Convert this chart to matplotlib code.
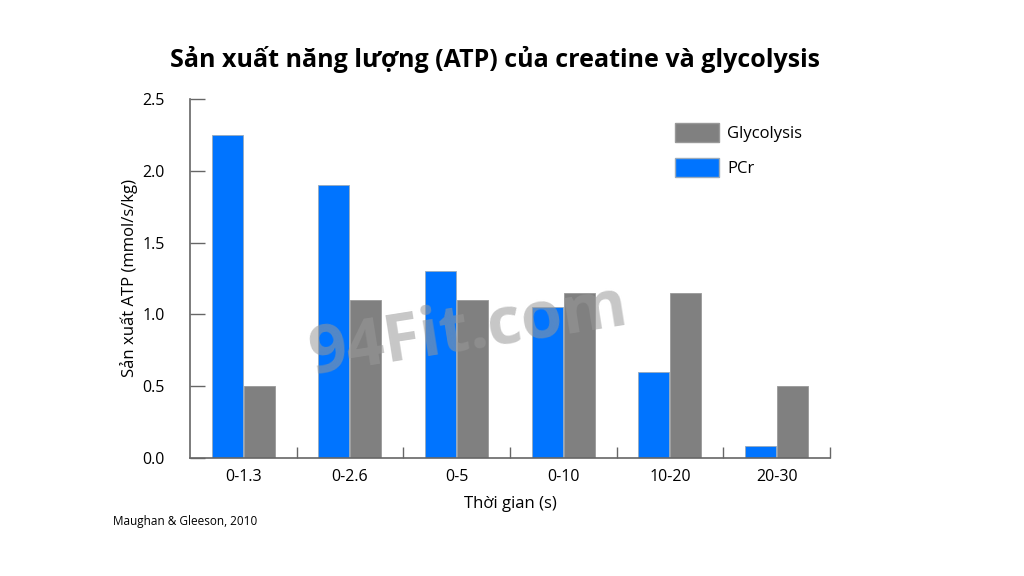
import numpy as np
import matplotlib
matplotlib.use("Agg")
import matplotlib.pyplot as plt
from matplotlib.patches import Patch

plt.rcParams['font.family'] = ['Open Sans', 'DejaVu Sans']

categories = ["0-1.3", "0-2.6", "0-5", "0-10", "10-20", "20-30"]
pcr = [2.25, 1.9, 1.3, 1.05, 0.6, 0.08]
glycolysis = [0.5, 1.1, 1.1, 1.15, 1.15, 0.5]

blue = "#0074ff"
grey = "#808080"
axis_col = "#666666"

fig = plt.figure(figsize=(10.24, 5.76), dpi=100)
ax = fig.add_axes([0.1855, 0.205, 0.625, 0.623])

x = np.arange(len(categories))
w = 0.29
ax.bar(x - w / 2 - 0.005, pcr, w, color=blue, edgecolor="#9ab", linewidth=0.6)
ax.bar(x + w / 2 + 0.005, glycolysis, w, color=grey, edgecolor="#999999", linewidth=0.6)

ax.set_xlim(-0.5, len(categories) - 0.5)
ax.set_ylim(0, 2.5)
ax.set_yticks([0, 0.5, 1.0, 1.5, 2.0, 2.5])
ax.set_yticklabels(["0.0", "0.5", "1.0", "1.5", "2.0", "2.5"])
ax.set_xticks(x)
ax.set_xticklabels(categories)
ax.set_xticks(np.arange(0.5, len(categories), 1), minor=True)
ax.tick_params(axis="x", which="major", length=0, labelsize=11.5, pad=8)
ax.tick_params(axis="x", which="minor", direction="in", length=8, color=axis_col, width=1)
ax.tick_params(axis="y", direction="in", length=11, color=axis_col, width=1, labelsize=11.5, pad=18)

for s in ["top", "right"]:
    ax.spines[s].set_visible(False)
for s in ["left", "bottom"]:
    ax.spines[s].set_color(axis_col)
    ax.spines[s].set_linewidth(1.2)

ax.set_xlabel("Thời gian (s)", fontsize=12, labelpad=8)
ax.set_ylabel("Sản xuất ATP (mmol/s/kg)", fontsize=12, labelpad=3)

handles = [Patch(facecolor=grey, edgecolor="#999999", label="Glycolysis"),
           Patch(facecolor=blue, edgecolor="#9ab", label="PCr")]
ax.legend(handles=handles, loc="upper left", bbox_to_anchor=(0.735, 0.975), frameon=False,
          fontsize=12, handlelength=2.6, handleheight=1.4, labelspacing=0.95, handletextpad=0.5)

fig.text(0.483, 0.897, "Sản xuất năng lượng (ATP) của creatine và glycolysis",
         ha="center", va="center", fontsize=18, fontweight="bold")
fig.text(0.11, 0.094, "Maughan & Gleeson, 2010", fontsize=8.5, ha="left", va="center")

# watermark
fig.text(0.458, 0.425, "94Fit.com", fontsize=48, fontweight="bold", color="#999999",
         alpha=0.55, rotation=9, ha="center", va="center")

fig.savefig("out.png", dpi=100)
